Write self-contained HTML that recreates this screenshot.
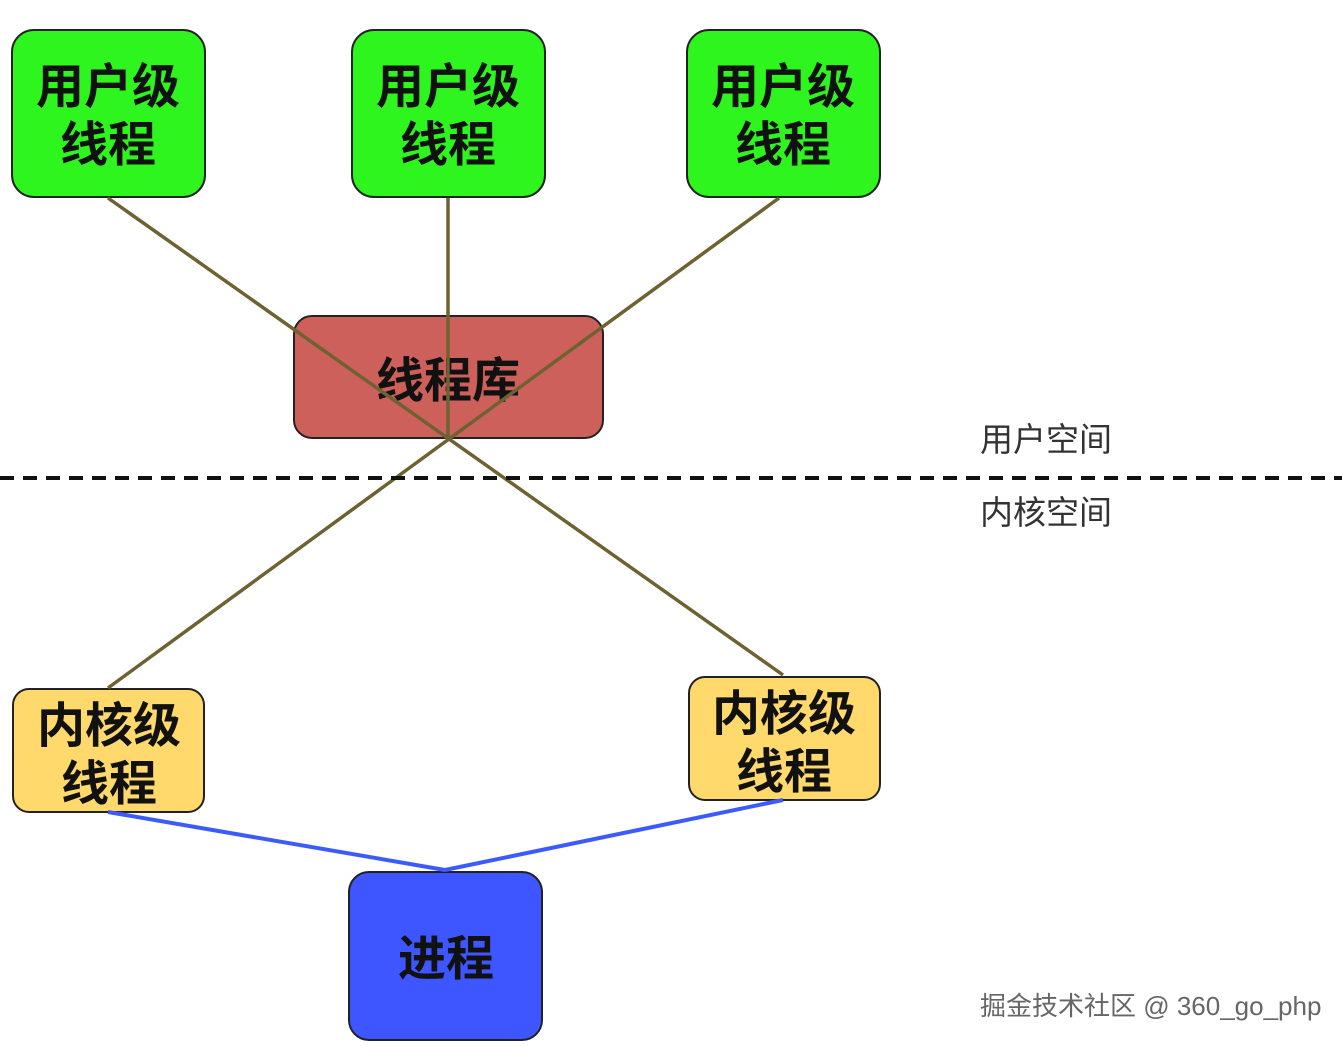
<!DOCTYPE html>
<html><head><meta charset="utf-8"><style>
html,body{margin:0;padding:0;background:#fff;}
svg{display:block;}
text{font-family:"Liberation Sans","Noto Sans CJK SC",sans-serif;}
</style></head><body>
<svg width="1342" height="1050" viewBox="0 0 1342 1050" xmlns="http://www.w3.org/2000/svg">
<rect width="1342" height="1050" fill="#fff"/>
<g stroke="#222" stroke-width="2">
<rect x="12" y="30" width="193" height="167" rx="22" fill="#2ef51e"/>
<rect x="352" y="30" width="193" height="167" rx="22" fill="#2ef51e"/>
<rect x="687" y="30" width="193" height="167" rx="22" fill="#2ef51e"/>
<rect x="294" y="316" width="309" height="122" rx="18" fill="#cd605a"/>
<rect x="13" y="689" width="191" height="123" rx="16" fill="#ffd96c"/>
<rect x="689" y="677" width="191" height="123" rx="16" fill="#ffd96c"/>
<rect x="349" y="872" width="193" height="168" rx="20" fill="#3d56ff"/>
</g>
<g font-weight="bold" font-size="48" text-anchor="middle" fill="#111">
<text x="108" y="103">用户级</text><text x="108" y="161">线程</text>
<text x="448" y="103">用户级</text><text x="448" y="161">线程</text>
<text x="783" y="103">用户级</text><text x="783" y="161">线程</text>
<text x="448" y="397">线程库</text>
<text x="109" y="742">内核级</text><text x="109" y="800">线程</text>
<text x="784" y="730">内核级</text><text x="784" y="788">线程</text>
<text x="446" y="975">进程</text>
</g>
<g stroke="#6e6232" stroke-width="3.5" fill="none">
<line x1="108" y1="198" x2="783" y2="675"/>
<line x1="448" y1="198" x2="448" y2="438"/>
<line x1="779" y1="198" x2="108" y2="688"/>
</g>
<g stroke="#3b5bff" stroke-width="4" fill="none">
<line x1="108" y1="812" x2="445" y2="870"/>
<line x1="783" y1="800" x2="445" y2="870"/>
</g>
<line x1="0" y1="478" x2="1342" y2="478" stroke="#111" stroke-width="4" stroke-dasharray="14 9"/>
<g font-size="33" fill="#333">
<text x="980" y="451">用户空间</text>
<text x="980" y="524">内核空间</text>
</g>
<text x="980" y="1015" font-size="26" fill="#666">掘金技术社区 @ 360_go_php</text>
</svg>
</body></html>
